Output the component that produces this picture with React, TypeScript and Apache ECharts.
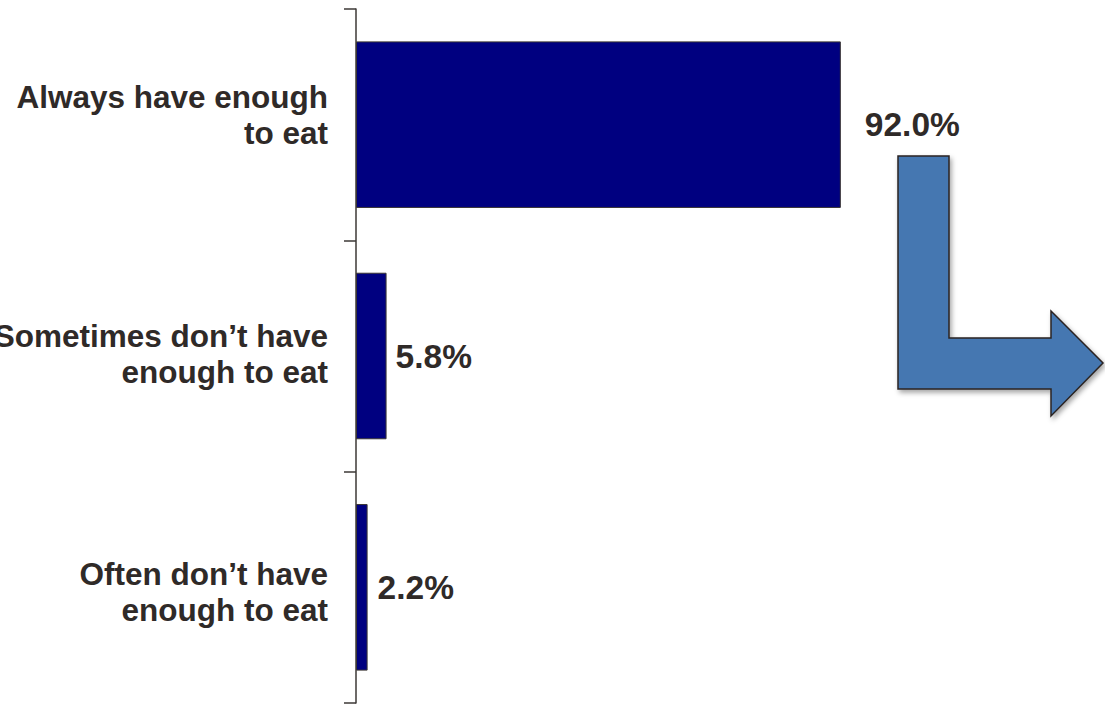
import React, { useEffect, useRef } from "react";
import * as echarts from "echarts";

const categories = [
  "Always have enough\nto eat",
  "Sometimes don’t have\nenough to eat",
  "Often don’t have\nenough to eat",
];
const values = [92.0, 5.8, 2.2];
const labelDistances = [24, 9, 10];
// spacer heights (px) above / below each category label block
const spacerAbove = [0, 0, 10];
const spacerBelow = [20, 4, 0];

const FONT = "'Liberation Sans', Arial, sans-serif";
const TEXT = "#2f2a28";

export default function App() {
  const ref = useRef<HTMLDivElement>(null);
  useEffect(() => {
    if (!ref.current) return;
    const chart = echarts.init(ref.current, null, { renderer: "svg" });
    chart.setOption({
      animation: false,
      backgroundColor: "#ffffff",
      textStyle: { fontFamily: FONT },
      grid: {
        left: 356,
        right: 222,
        top: 9,
        bottom: 4,
        containLabel: false,
        outerBoundsMode: "none",
      },
      xAxis: { type: "value", min: 0, max: 100, show: false },
      yAxis: {
        type: "category",
        inverse: true,
        data: categories,
        axisLine: { show: true, lineStyle: { color: "#3d3836", width: 1.5 } },
        axisTick: { show: true, length: 12, lineStyle: { color: "#3d3836", width: 1.5 } },
        splitLine: { show: false },
        axisLabel: {
          margin: 28,
          align: "right",
          formatter: (value: string, index: number) => {
            const lines = value.split("\n").map((l) => `{t|${l}}`);
            const out: string[] = [];
            if (spacerAbove[index] > 0) out.push(`{a${index}| }`);
            out.push(...lines);
            if (spacerBelow[index] > 0) out.push(`{b${index}| }`);
            return out.join("\n");
          },
          rich: {
            t: {
              fontSize: 31.5,
              fontWeight: "bold",
              color: TEXT,
              lineHeight: 36,
              fontFamily: FONT,
              align: "right",
            },
            a0: { fontSize: 1, lineHeight: spacerAbove[0] || 1 },
            a1: { fontSize: 1, lineHeight: spacerAbove[1] || 1 },
            a2: { fontSize: 1, lineHeight: spacerAbove[2] || 1 },
            b0: { fontSize: 1, lineHeight: spacerBelow[0] || 1 },
            b1: { fontSize: 1, lineHeight: spacerBelow[1] || 1 },
            b2: { fontSize: 1, lineHeight: spacerBelow[2] || 1 },
          },
        },
      },
      series: [
        {
          type: "bar",
          barCategoryGap: "28%",
          itemStyle: { color: "#000080", borderColor: "#3a3533", borderWidth: 1 },
          data: values.map((v, i) => ({
            value: v,
            label: { distance: labelDistances[i] },
          })),
          label: {
            show: true,
            position: "right",
            formatter: (p: any) => Number(p.value).toFixed(1) + "%",
            fontSize: 33.5,
            fontWeight: "bold",
            color: TEXT,
            fontFamily: FONT,
          },
        },
      ],
      graphic: [
        {
          type: "polygon",
          shape: {
            points: [
              [898, 156],
              [949, 156],
              [949, 338],
              [1051, 338],
              [1051, 311],
              [1103, 363],
              [1051, 416],
              [1051, 389],
              [898, 389],
            ],
          },
          style: {
            fill: "#4577b1",
            stroke: "#2a2422",
            lineWidth: 1.5,
            shadowBlur: 5,
            shadowOffsetX: 2,
            shadowOffsetY: 3,
            shadowColor: "rgba(0,0,0,0.35)",
          },
        },
      ],
    });
    return () => chart.dispose();
  }, []);
  return (
    <div
      ref={ref}
      style={{ position: "absolute", left: 0, top: 0, width: 1105, height: 707 }}
    />
  );
}
